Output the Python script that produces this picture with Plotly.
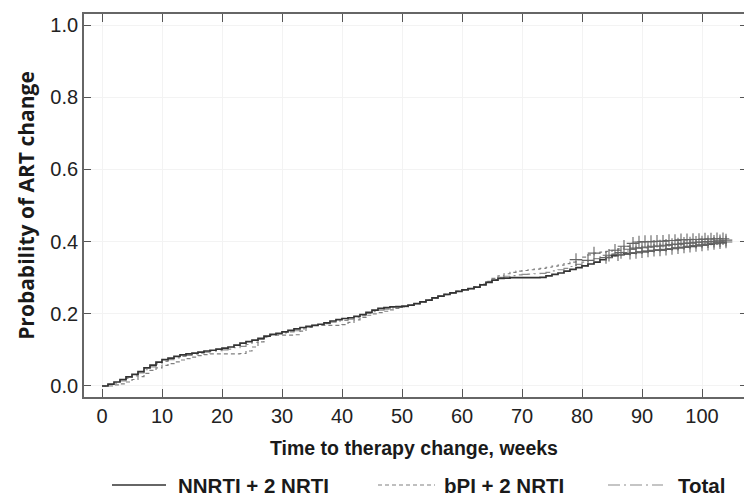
import plotly.graph_objects as go

# ---------------- data ----------------
nnrti_t = [0, 1, 2, 3, 4, 5, 6, 7, 8, 9, 10, 11, 12, 13, 14, 15, 16, 17, 18, 19, 20, 21, 22, 23,
           24, 25, 26, 27, 28, 29, 30, 31, 32, 33, 34, 35, 36, 37, 38, 39, 40, 41, 42, 43, 44,
           45, 46, 47, 48, 49, 50, 51, 52, 53, 54, 55, 56, 57, 58, 59, 60, 61, 62, 63, 64, 65,
           66, 67, 68, 73, 74, 75, 76, 77, 78, 79, 80, 81, 82, 83, 84, 85, 86, 87, 88, 89, 90,
           91, 92, 93, 94, 95, 96, 97, 98, 99, 100, 101, 102, 103, 104]
nnrti_p = [0.000, 0.005, 0.011, 0.018, 0.025, 0.032, 0.040, 0.050, 0.058, 0.066, 0.073, 0.077,
           0.082, 0.086, 0.089, 0.091, 0.094, 0.097, 0.099, 0.102, 0.105, 0.108, 0.113, 0.119,
           0.123, 0.127, 0.132, 0.138, 0.143, 0.146, 0.150, 0.154, 0.158, 0.162, 0.165, 0.168,
           0.171, 0.175, 0.180, 0.184, 0.187, 0.189, 0.193, 0.198, 0.204, 0.210, 0.215, 0.217,
           0.219, 0.220, 0.221, 0.224, 0.228, 0.233, 0.238, 0.244, 0.249, 0.254, 0.258, 0.262,
           0.266, 0.270, 0.274, 0.280, 0.287, 0.293, 0.298, 0.299, 0.300, 0.301, 0.305, 0.309,
           0.313, 0.318, 0.323, 0.328, 0.333, 0.338, 0.343, 0.350, 0.356, 0.361, 0.364, 0.366,
           0.368, 0.370, 0.372, 0.374, 0.376, 0.377, 0.379, 0.381, 0.383, 0.385, 0.387, 0.389,
           0.391, 0.393, 0.395, 0.397, 0.399]

bpi_t = [0, 2, 3, 4, 5, 6, 7, 8, 9, 10, 11, 12, 13, 14, 15, 16, 17, 18, 23, 24, 25, 26, 27, 28,
         32, 33, 34, 35, 40, 41, 42, 43, 44, 45, 46, 47, 48, 49, 50, 51, 52, 53, 54, 55, 56, 57,
         58, 59, 60, 61, 62, 63, 64, 65, 66, 67, 68, 69, 70, 71, 72, 73, 74, 75, 76, 77, 78, 79,
         80, 81, 82, 83, 84, 85, 86, 87, 88, 89, 90, 92, 94, 96, 98, 100, 102, 104]
bpi_p = [0.000, 0.003, 0.006, 0.011, 0.018, 0.026, 0.035, 0.043, 0.050, 0.057, 0.062, 0.067,
         0.072, 0.076, 0.080, 0.084, 0.087, 0.089, 0.090, 0.097, 0.108, 0.122, 0.135, 0.141,
         0.142, 0.152, 0.162, 0.168, 0.170, 0.176, 0.183, 0.190, 0.196, 0.200, 0.203, 0.207,
         0.211, 0.215, 0.219, 0.223, 0.228, 0.233, 0.238, 0.243, 0.248, 0.253, 0.258, 0.262,
         0.266, 0.270, 0.275, 0.282, 0.290, 0.298, 0.305, 0.311, 0.315, 0.318, 0.320, 0.322,
         0.324, 0.326, 0.329, 0.332, 0.335, 0.339, 0.343, 0.350, 0.357, 0.363, 0.368, 0.371,
         0.373, 0.376, 0.380, 0.387, 0.395, 0.399, 0.400, 0.401, 0.403, 0.405, 0.406, 0.407,
         0.408, 0.409]

total_t = [0, 1, 2, 3, 4, 5, 6, 7, 8, 9, 10, 11, 12, 13, 14, 15, 16, 17, 18, 19, 20, 21, 22, 23,
           24, 25, 26, 27, 28, 29, 30, 31, 32, 33, 34, 35, 36, 37, 38, 39, 40, 41, 42, 43, 44,
           45, 46, 47, 48, 49, 50, 51, 52, 53, 54, 55, 56, 57, 58, 59, 60, 61, 62, 63, 64, 65,
           66, 67, 68, 69, 70, 71, 72, 73, 74, 75, 76, 77, 78, 79, 80, 81, 82, 83, 84, 85, 86,
           87, 88, 89, 90, 91, 92, 93, 94, 95, 96, 97, 98, 99, 100, 101, 102, 103, 104]
total_p = [0.000, 0.004, 0.008, 0.014, 0.021, 0.028, 0.036, 0.045, 0.053, 0.061, 0.068, 0.073,
           0.078, 0.082, 0.085, 0.088, 0.091, 0.094, 0.096, 0.098, 0.100, 0.102, 0.106, 0.110,
           0.115, 0.121, 0.129, 0.137, 0.142, 0.144, 0.147, 0.150, 0.153, 0.158, 0.164, 0.168,
           0.170, 0.173, 0.177, 0.180, 0.182, 0.185, 0.189, 0.195, 0.201, 0.206, 0.210, 0.213,
           0.216, 0.218, 0.220, 0.224, 0.228, 0.233, 0.238, 0.244, 0.249, 0.254, 0.258, 0.262,
           0.266, 0.270, 0.274, 0.281, 0.288, 0.295, 0.301, 0.304, 0.306, 0.308, 0.309, 0.310,
           0.311, 0.312, 0.315, 0.319, 0.322, 0.326, 0.331, 0.337, 0.343, 0.348, 0.353, 0.358,
           0.362, 0.366, 0.370, 0.374, 0.379, 0.382, 0.383, 0.385, 0.387, 0.388, 0.390, 0.392,
           0.393, 0.395, 0.396, 0.398, 0.399, 0.400, 0.401, 0.402, 0.404]

# censoring times (+ marks)
nnrti_cens = [84, 86, 88, 89, 90, 91, 92, 93, 94, 95, 96, 97, 98, 99, 100, 101, 102, 103, 104]
bpi_cens = [79, 82, 85.5, 87, 88.5, 89.5, 90.5, 91.5, 92.5, 93.5, 94.5, 95.5, 96.5, 97.5, 98.5,
            99.5, 100.5, 101.5, 102.5, 103.5]
total_cens = [81, 84.5, 86.5, 88, 89, 90, 91, 92, 93, 94, 95, 96, 97, 98, 99, 100, 101, 102,
              103, 104]

x_ticks = [0, 10, 20, 30, 40, 50, 60, 70, 80, 90, 100]
y_ticks = [0.0, 0.2, 0.4, 0.6, 0.8, 1.0]
y_tick_text = ["0.0", "0.2", "0.4", "0.6", "0.8", "1.0"]

names = ["NNRTI + 2 NRTI", "bPI + 2 NRTI", "Total"]


def km_at(t, times, vals):
    v = vals[0]
    for tt, vv in zip(times, vals):
        if tt <= t:
            v = vv
        else:
            break
    return v


SOLID_C, DASH_C, DD_C = "#333333", "#808080", "#8c8c8c"
DASH_P, DD_P = "4px,3px", "12px,4px,2px,4px"

fig = go.Figure()

series = [
    (total_t, total_p, total_cens, DD_C, DD_P, 1.2, names[2]),
    (bpi_t, bpi_p, bpi_cens, DASH_C, DASH_P, 1.2, names[1]),
    (nnrti_t, nnrti_p, nnrti_cens, SOLID_C, "solid", 1.7, names[0]),
]
for t, p, cens, col, dash, w, nm in series:
    fig.add_trace(go.Scatter(x=t, y=p, mode="lines",
                             line=dict(color=col, dash=dash, width=w, shape="hv"),
                             name=nm, showlegend=False))
    fig.add_trace(go.Scatter(x=cens, y=[km_at(c, t, p) for c in cens], mode="markers",
                             marker=dict(symbol="cross-thin", size=9,
                                         line=dict(color="#666666", width=1.1)),
                             showlegend=False, hoverinfo="skip"))

# invisible trace so the right-hand mirrored ticks axis is drawn
fig.add_trace(go.Scatter(x=[nnrti_t[0]], y=[nnrti_p[0]], yaxis="y2", mode="markers",
                         marker=dict(opacity=0), showlegend=False, hoverinfo="skip"))

# manual legend (lines + labels) below the plot
L0, L1 = 84, 744
T0, B0 = 14, 397


def px(xp):
    return (xp - L0) / (L1 - L0)


def py(yp):
    return (B0 - yp) / (B0 - T0)


LEG_Y = 485
legend_items = [
    (112, 166, 177, names[0], SOLID_C, "solid", 1.7),
    (378, 435, 443, names[1], DASH_C, DASH_P, 1.2),
    (608, 663, 677, names[2], DD_C, DD_P, 1.2),
]
for x0, x1, xt, txt, col, dash, w in legend_items:
    fig.add_shape(type="line", xref="paper", yref="paper", x0=px(x0), x1=px(x1),
                  y0=py(LEG_Y), y1=py(LEG_Y), line=dict(color=col, dash=dash, width=w))
    fig.add_annotation(xref="paper", yref="paper", x=px(xt), y=py(LEG_Y), xanchor="left",
                       yanchor="middle", text="<b>%s</b>" % txt, showarrow=False, borderpad=0,
                       font=dict(family="Liberation Sans, Arial, sans-serif", size=20.5,
                                 color="#1a1a1a"))

Y_RANGE = [-0.0305, 1.0305]
fig.update_layout(
    width=744, height=497,
    margin=dict(l=L0, r=0, t=T0, b=497 - B0),
    paper_bgcolor="white", plot_bgcolor="white",
    font=dict(family="Liberation Sans, Arial, sans-serif", size=20, color="#222"),
    xaxis=dict(range=[-3.0, 107.0], tickvals=x_ticks, ticks="inside", ticklen=8, tickwidth=1.3,
               tickcolor="#555", showline=True, linecolor="#666", linewidth=1.8, mirror="ticks",
               showgrid=True, gridcolor="#f3f3f3", gridwidth=1, zeroline=False, automargin=False,
               title=dict(text="<b>Time to therapy change, weeks</b>", standoff=15,
                          font=dict(size=19.5, family="Liberation Sans, Arial, sans-serif",
                                    color="#1a1a1a"))),
    yaxis=dict(range=Y_RANGE, tickvals=y_ticks, ticktext=y_tick_text, ticks="inside",
               ticklen=7, tickwidth=1.3, tickcolor="#555", showline=True, linecolor="#666",
               linewidth=1.8, showgrid=True, gridcolor="#f3f3f3", gridwidth=1, zeroline=False,
               automargin=False, ticklabelstandoff=0,
               title=dict(text="<b>Probability of ART change</b>", standoff=10,
                          font=dict(size=21, family="Open Sans, sans-serif", color="#1a1a1a"))),
    yaxis2=dict(range=Y_RANGE, overlaying="y", side="right", tickvals=y_ticks, ticks="inside",
                ticklen=4, tickwidth=1.3, tickcolor="#555", showticklabels=False,
                showgrid=False, showline=False, zeroline=False, automargin=False),
)

fig.write_html("out.html", config={"displayModeBar": False},
               post_script="document.body.style.margin='0';document.body.style.overflow='hidden';")
